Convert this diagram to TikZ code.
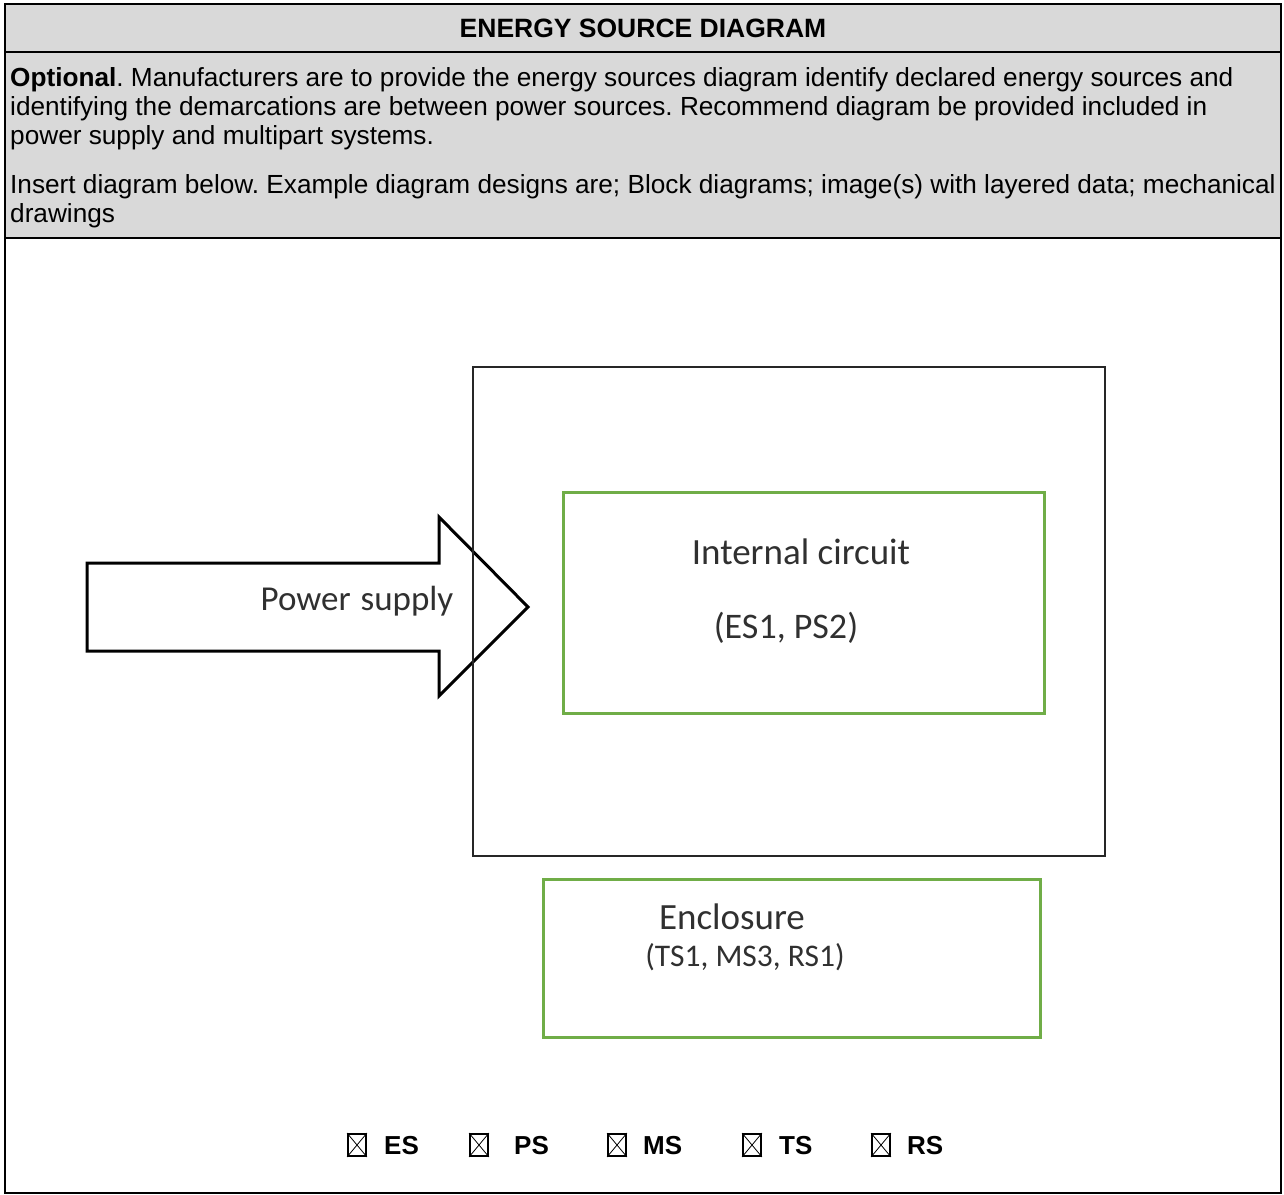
\documentclass[tikz,border=0pt]{standalone}
\usepackage{fontspec}
\setmainfont{Liberation Sans}
\newfontfamily\calib{Carlito}
\definecolor{hdrgray}{HTML}{D9D9D9}
\definecolor{boxgreen}{HTML}{70AD47}
\definecolor{lbltext}{HTML}{303030}
\frenchspacing
\begin{document}
\begin{tikzpicture}[x=1pt,y=-1pt,
  bodytext/.style={anchor=base west,inner sep=0pt,font=\fontsize{26.2}{30}\selectfont},
  cbox/.style={draw,line width=1.8pt,minimum width=18pt,minimum height=22pt,inner sep=0pt},
  cboxlbl/.style={anchor=base west,inner sep=0pt,font=\fontsize{26}{30}\selectfont\bfseries},
  clabel/.style={inner sep=0pt,text=lbltext,font=\calib\fontsize{37}{42}\selectfont},
  greenbox/.style={draw=boxgreen,line width=3pt},
]
\useasboundingbox (0,0) rectangle (1284,1194);
% header rows
\fill[hdrgray] (5,4) rectangle (1281,238);
\draw[line width=2.2pt] (5,4) rectangle (1281,1193);
\draw[line width=2.2pt] (5,52) -- (1281,52);
\draw[line width=2.2pt] (5,238) -- (1281,238);
\node[inner sep=0pt,font=\fontsize{26.5}{30}\selectfont\bfseries] (title) at (643,28) {ENERGY SOURCE DIAGRAM};
\node[bodytext] (l1) at (10,86) {\textbf{Optional}. Manufacturers are to provide the energy sources diagram identify declared energy sources and};
\node[bodytext] (l2) at (10,115) {identifying the demarcations are between power sources. Recommend diagram be provided included in};
\node[bodytext] (l3) at (10,144) {power supply and multipart systems.};
\node[bodytext] (l4) at (10,193) {Insert diagram below. Example diagram designs are; Block diagrams; image(s) with layered data; mechanical};
\node[bodytext] (l5) at (10,222) {drawings};
% power supply arrow
\draw[line width=3pt,line join=miter] (87,563) -- (439,563) -- (439,517) -- (528,607) -- (439,696) -- (439,651) -- (87,651) -- cycle;
\node[clabel,font=\calib\fontsize{35}{40}\selectfont] (ps) at (357,601) {Power\hspace{2pt} supply};
% device outline
\draw[line width=1.6pt,draw=black!85] (473,367) rectangle (1105,856);
% internal circuit
\draw[greenbox] (563,492) rectangle (1044,713);
\node[clabel] (ic) at (801,552) {Internal circuit};
\node[clabel,font=\calib\fontsize{36}{40}\selectfont] (icv) at (786,628) {(ES1, PS2)};
% enclosure
\draw[greenbox] (543,879) rectangle (1040,1037);
\node[clabel] (enc) at (732,917) {Enclosure};
\node[clabel,font=\calib\fontsize{31.5}{36}\selectfont] (encv) at (745,957) {(TS1, MS3, RS1)};
% checkboxes
\foreach \n/\bx/\tx/\t in {1/357/384/ES, 2/479/514/PS, 3/617/643/MS, 4/752/779/TS, 5/881/907/RS}{
  \node[cbox] (cb\n) at (\bx,1145) {};
  \draw[line width=0.8pt] (cb\n.north west) -- (cb\n.south east);
  \draw[line width=0.8pt] (cb\n.north east) -- (cb\n.south west);
  \node[cboxlbl] (cl\n) at (\tx,1154) {\t};
}
\end{tikzpicture}
\end{document}
